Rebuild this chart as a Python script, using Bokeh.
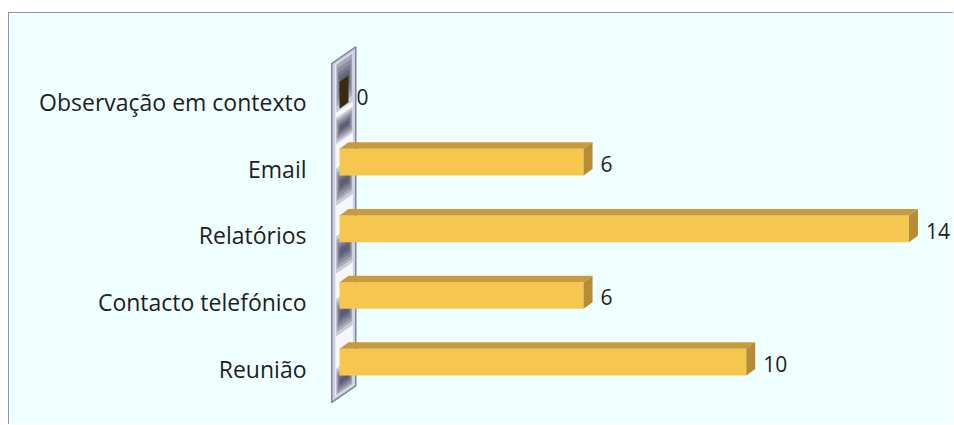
from bokeh.plotting import figure
from bokeh.models import ColumnDataSource, FixedTicker, Range1d
from bokeh.core.properties import value
from bokeh.embed import file_html
from bokeh.resources import INLINE

# ---- data ----
categories = ["Reunião", "Contacto telefónico", "Relatórios", "Email", "Observação em contexto"]
values = [10, 6, 14, 6, 0]
value_labels = [str(v) for v in values]

# ---- styles ----
FONT = "Open Sans"
BG = "#F0FFFF"
FRONT = "#F5C74F"
TOP = "#C99A3D"
SIDE = "#B68C35"
SIDE_ZERO = "#3A2A12"
TEXT = "#1E1E1E"

DX = 0.221     # 3D depth in x (value units)
DY = 0.0975    # 3D depth in y (category units)
H = 0.40       # bar front-face height
YOFF = 0.099   # front face shift above label centre

p = figure(width=945, height=412, output_backend="svg", toolbar_location=None,
           x_range=Range1d(-0.3197, 15.12), y_range=Range1d(-0.850, 5.327),
           min_border_left=317, min_border_right=0, min_border_top=0, min_border_bottom=0)
p.styles = {"margin-left": "8px", "margin-top": "12px",
            "border-left": "1px solid #8A93A8", "border-top": "1px solid #8A93A8"}
p.border_fill_color = BG
p.background_fill_color = BG
p.outline_line_color = None
p.grid.visible = False
p.xaxis.visible = False

# ---- wall ----
x0, x1 = -0.19, 0.40
yb, yt = -0.505, 4.577
slope = 0.25 / (x1 - x0)
def wy(x, y):
    return y + slope * (x - x0)

p.patch([x0, x1, x1, x0], [yb, wy(x1, yb), wy(x1, yt), yt],
        fill_color="#CDD1E3", line_color="#7E859C", line_width=1.5)
ix0, ix1 = -0.10, 0.33
p.patch([ix0, ix1, ix1, ix0], [wy(ix0, yb + 0.05), wy(ix1, yb + 0.05), wy(ix1, yt - 0.05), wy(ix0, yt - 0.05)],
        fill_color="#F6F7FC", line_color=None)

blobs = [(-0.27, 0.8), (0.72, 1.0), (1.66, 1.0), (2.68, 1.0), (3.52, 0.7), (4.2, 1.45)]
layers = [(0.28, -0.085, 0.325), (0.22, -0.07, 0.31), (0.17, -0.05, 0.29),
          (0.12, -0.03, 0.27), (0.08, -0.01, 0.25), (0.045, 0.02, 0.22)]
for yc, sc in blobs:
    for hh, a, b in layers:
        lo = max(yc - hh * sc, yb + 0.06)
        hi = min(yc + hh * sc, yt - 0.06)
        p.patch([a, b, b, a], [wy(a, lo), wy(b, lo), wy(b, hi), wy(a, hi)],
                fill_color="#2A2D4A", fill_alpha=0.21, line_color=None)

# ---- bars ----
ypos = list(range(len(categories)))
front_y = [y + YOFF for y in ypos]
src = ColumnDataSource(dict(y=front_y, right=values))
p.hbar(y="y", left=0, right="right", height=H, source=src,
       fill_color=FRONT, line_color=None)

top_xs, top_ys, side_xs, side_ys, side_cols = [], [], [], [], []
for v, yc in zip(values, front_y):
    t = yc + H / 2
    b = yc - H / 2
    top_xs.append([0, v, v + DX, DX])
    top_ys.append([t, t, t + DY, t + DY])
    side_xs.append([v, v, v + DX, v + DX])
    side_ys.append([b, t, t + DY, b + DY])
    side_cols.append(SIDE_ZERO if v == 0 else SIDE)

p.patches(top_xs, top_ys, fill_color=TOP, line_color=None)
p.patches("xs", "ys", source=ColumnDataSource(dict(xs=side_xs, ys=side_ys, c=side_cols)),
          fill_color="c", line_color=None)

# ---- value labels ----
p.text(x=values, y=[y + 0.07 for y in ypos], text=value_labels, x_offset=17,
       text_align="left", text_baseline="middle", text_font=value(FONT),
       text_font_size="21px", text_color=TEXT)

# ---- category axis ----
p.yaxis.ticker = FixedTicker(ticks=ypos)
p.yaxis.major_label_overrides = {i: c for i, c in enumerate(categories)}
p.yaxis.major_tick_line_color = None
p.yaxis.minor_tick_line_color = None
p.yaxis.axis_line_color = None
p.yaxis.major_label_standoff = 14
p.yaxis.major_label_text_font = FONT
p.yaxis.major_label_text_font_size = "23px"
p.yaxis.major_label_text_color = TEXT

open("out.html", "w").write(file_html(p, INLINE))
